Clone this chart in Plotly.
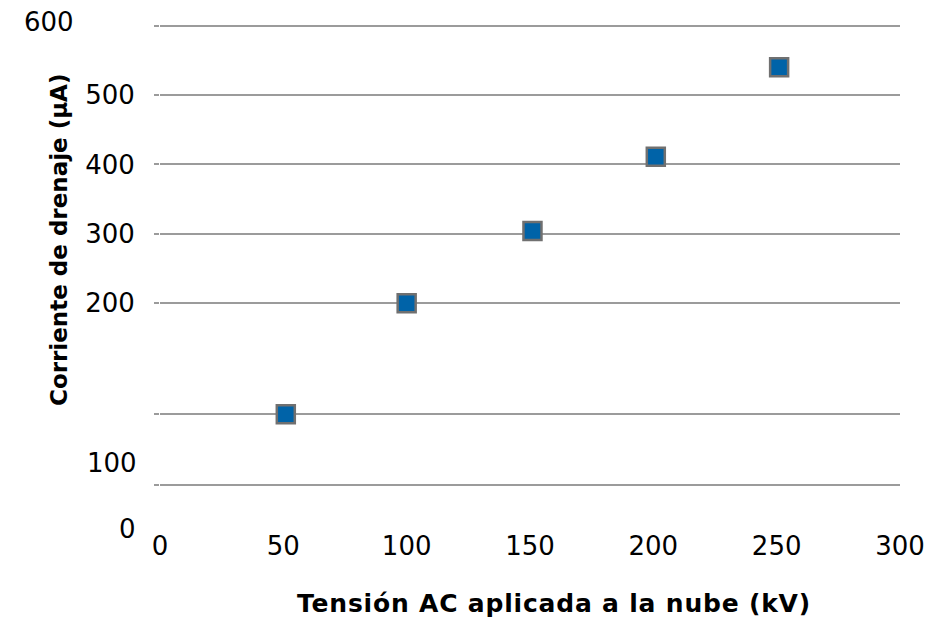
import plotly.graph_objects as go

# Drain current measured against the AC voltage applied to the cloud
voltage_kv = [51, 100, 151, 201, 251]
current_ua = [100, 200, 304, 411, 540]

x_ticks = [0, 50, 100, 150, 200, 250, 300]
y_upper_ticks = [200, 300, 400, 500, 600]
y_lower_ticks = [0, 100]

x_title = "Tensión AC aplicada a la nube (kV)"
y_title = "Corriente de drenaje (µA)"

# Page geometry (pixels)
W, H = 943, 620
L, R, T, B = 160, 43, 0, 92
PW = W - L - R
PH = H - T - B


def pxx(p):
    """page x pixel -> paper fraction"""
    return (p - L) / PW


def pxy(p):
    """page y pixel -> paper fraction"""
    return (PH - (p - T)) / PH


GRID = "#9b9b9b"
BLUE = "rgb(0,99,168)"
EDGE = "rgb(112,112,112)"
NUM_FONT = dict(family="DejaVu Sans", size=26, color="#000000")
XT_FONT = dict(family="DejaVu Sans", size=25, color="#000000")
YT_FONT = dict(family="DejaVu Sans", size=23, color="#000000")

# broken value axis: upper panel holds 200..600, lower panel holds 0..100
split = 150
up_x = [v for v, c in zip(voltage_kv, current_ua) if c >= split]
up_y = [c for c in current_ua if c >= split]
lo_x = [v for v, c in zip(voltage_kv, current_ua) if c < split]
lo_y = [c for c in current_ua if c < split]

marker = dict(symbol="square", size=18, color=BLUE, line=dict(color=EDGE, width=2.5))

fig = go.Figure()
fig.add_trace(go.Scatter(x=up_x, y=up_y, mode="markers", marker=marker,
                         xaxis="x", yaxis="y", showlegend=False))
fig.add_trace(go.Scatter(x=lo_x, y=lo_y, mode="markers", marker=marker,
                         xaxis="x", yaxis="y2", showlegend=False))

axis_common = dict(showgrid=True, gridcolor=GRID, gridwidth=2, zeroline=False,
                   showline=False, ticks="outside", ticklen=5, tickwidth=2,
                   tickcolor=GRID, tickfont=NUM_FONT)

fig.update_layout(
    width=W, height=H,
    margin=dict(l=L, r=R, t=T, b=B),
    paper_bgcolor="white", plot_bgcolor="white",
    xaxis=dict(range=[0, 300], tickvals=x_ticks, ticktext=[str(v) for v in x_ticks],
               showgrid=False, zeroline=False, showline=False, ticks="",
               tickfont=NUM_FONT, anchor="y2"),
    yaxis=dict(domain=[pxy(322), pxy(8)], range=[172.9, 625.5],
               tickvals=y_upper_ticks,
               ticktext=[str(v) if v != 600 else "" for v in y_upper_ticks],
               ticklabelstandoff=14, anchor="x", **axis_common),
    yaxis2=dict(domain=[0, pxy(360)], range=[-60.8, 176.8],
                tickvals=y_lower_ticks, showticklabels=False, anchor="x",
                **axis_common),
)

annotations = [
    dict(text=str(y_upper_ticks[-1]), x=pxx(76), y=pxy(22.5), xanchor="right"),
    dict(text=str(y_lower_ticks[1]), x=pxx(139), y=pxy(463), xanchor="right"),
    dict(text=str(y_lower_ticks[0]), x=pxx(138), y=pxy(529), xanchor="right"),
]
for a in annotations:
    fig.add_annotation(xref="paper", yref="paper", showarrow=False,
                       yanchor="middle", font=NUM_FONT, **a)

fig.add_annotation(text='<span style="letter-spacing:0.8px"><b>' + x_title + "</b></span>",
                   xref="paper", yref="paper",
                   x=pxx(554), y=pxy(603), xanchor="center", yanchor="middle",
                   showarrow=False, font=XT_FONT)
fig.add_annotation(text="<b>" + y_title + "</b>",
                   xref="paper", yref="paper",
                   x=pxx(59), y=pxy(240), xanchor="center", yanchor="middle",
                   textangle=-90, showarrow=False, font=YT_FONT)

fig.write_html("out.html")
